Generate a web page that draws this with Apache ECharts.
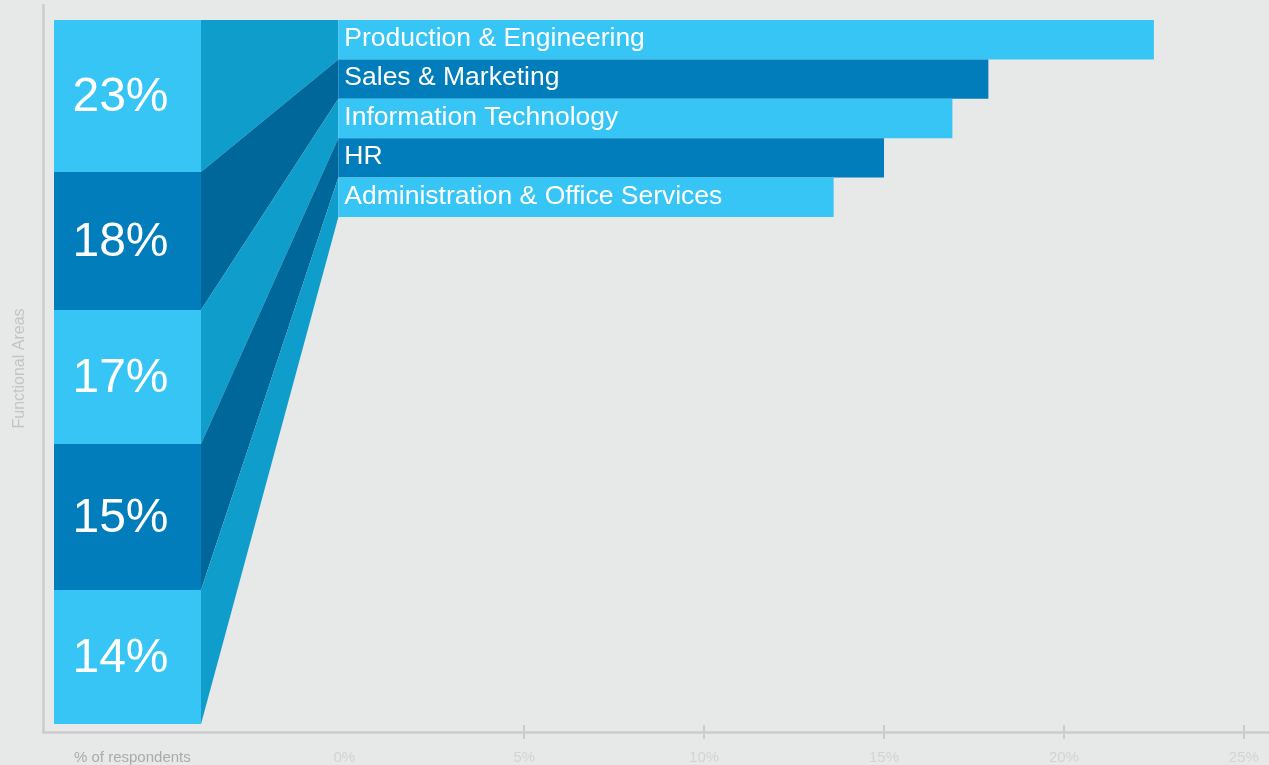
<!DOCTYPE html>
<html>
<head>
<meta charset="utf-8">
<script src="https://cdn.jsdelivr.net/npm/echarts@6/dist/echarts.min.js"></script>
<style>
  html, body { margin: 0; padding: 0; background: #e7e9e8; }
  #chart { width: 1269px; height: 765px; }
</style>
</head>
<body>
<div id="chart"></div>
<script>
// Functional areas of respondents (% of respondents)
const categories = [
  'Production & Engineering',
  'Sales & Marketing',
  'Information Technology',
  'HR',
  'Administration & Office Services'
];
const respondentShare = [22.5, 17.9, 16.9, 15.0, 13.6];
const tickValues = [0, 5, 10, 15, 20, 25];

// Layout of the stacked summary column on the left (relative block heights)
const blockSpan = [152, 138, 134, 146, 134];
const BAR_LEAD = 6;          // bars start a few pixels before the 0% line
const FONT = '"Liberation Sans", Arial, Helvetica, sans-serif';
const LIGHT = '#36c5f4';
const DARK = '#007dba';
const FOLD_LIGHT = '#0f9dcc';
const FOLD_DARK = '#00679a';
const AXIS_GREY = '#cbcdcc';

const blockBounds = [];
let acc = 0;
blockSpan.forEach(function (h) { blockBounds.push([acc, acc + h]); acc += h; });
const blockTotal = acc;

const X_MIN = -8.375, X_MAX = 25.7;

const chart = echarts.init(document.getElementById('chart'), null, { renderer: 'canvas' });

function renderBar(params, api) {
  const i = api.value(1);
  const v = api.value(0);
  const c0 = api.coord([0, i]);
  const c1 = api.coord([v, i]);
  const band = api.size([0, 1])[1];
  return {
    type: 'group',
    children: [
      {
        type: 'rect',
        shape: { x: c0[0] - BAR_LEAD, y: c0[1] - band / 2, width: c1[0] - c0[0] + BAR_LEAD, height: band },
        style: { fill: i % 2 ? DARK : LIGHT }
      },
      {
        type: 'text',
        style: {
          text: categories[i], x: c0[0], y: c0[1] - 1,
          fill: '#ffffff', fontSize: 26.5, fontFamily: FONT,
          align: 'left', verticalAlign: 'middle'
        }
      }
    ]
  };
}

function renderFold(params, api) {
  const i = api.value(1);
  const c = api.coord([0, i]);
  const band = api.size([0, 1])[1];
  const xr = c[0] - BAR_LEAD;
  const xl = chart.convertToPixel({ xAxisIndex: 3 }, 1);
  const yt = chart.convertToPixel({ yAxisIndex: 2 }, api.value(2));
  const yb = chart.convertToPixel({ yAxisIndex: 2 }, api.value(3));
  return {
    type: 'polygon',
    shape: { points: [[xl, yt], [xr, c[1] - band / 2], [xr, c[1] + band / 2], [xl, yb]] },
    style: { fill: i % 2 ? FOLD_DARK : FOLD_LIGHT }
  };
}

function renderBlock(params, api) {
  const i = params.dataIndex;
  const p0 = api.coord([0, api.value(1)]);
  const p1 = api.coord([1, api.value(2)]);
  const cx = (p0[0] + p1[0]) / 2;
  const cy = (p0[1] + p1[1]) / 2;
  return {
    type: 'group',
    children: [
      {
        type: 'rect',
        shape: { x: p0[0], y: p0[1], width: p1[0] - p0[0], height: p1[1] - p0[1] },
        style: { fill: i % 2 ? DARK : LIGHT }
      },
      {
        type: 'text',
        style: {
          text: Math.round(respondentShare[i]) + '%', x: cx - 7, y: cy + 2,
          fill: '#ffffff', fontSize: 48, fontFamily: FONT,
          align: 'center', verticalAlign: 'middle'
        }
      }
    ]
  };
}

const option = {
  backgroundColor: '#e7e9e8',
  animation: false,
  textStyle: { fontFamily: FONT },
  grid: [
    { left: 43, right: 0, top: 20, height: 197 },          // bars
    { left: 43, right: 0, top: 5, bottom: 32 },            // frame with axes
    { left: 54, width: 147, top: 20, height: 704 }         // summary column
  ],
  xAxis: [
    { gridIndex: 0, type: 'value', min: X_MIN, max: X_MAX, show: false },
    {
      gridIndex: 1, type: 'value', position: 'bottom', min: X_MIN, max: X_MAX,
      axisLine: { show: true, onZero: false, lineStyle: { color: AXIS_GREY, width: 2.5 } },
      axisTick: { show: true, customValues: tickValues.slice(1), length: 7, lineStyle: { color: AXIS_GREY, width: 2 } },
      axisLabel: {
        customValues: tickValues, formatter: function (v) { return v + '%'; },
        color: '#d2d4d3', fontSize: 15, margin: 18, fontFamily: FONT
      },
      splitLine: { show: false }
    },
    {
      gridIndex: 1, type: 'value', position: 'bottom', min: X_MIN, max: X_MAX,
      axisLine: { show: false, onZero: false },
      axisTick: { show: true, inside: true, customValues: tickValues.slice(1), length: 7, lineStyle: { color: AXIS_GREY, width: 2 } },
      axisLabel: { show: false },
      splitLine: { show: false }
    },
    { gridIndex: 2, type: 'value', min: 0, max: 1, show: false }
  ],
  yAxis: [
    { gridIndex: 0, type: 'category', data: categories, inverse: true, show: false },
    {
      gridIndex: 1, type: 'value', position: 'left', min: 0, max: 1,
      axisLine: { show: true, onZero: false, lineStyle: { color: AXIS_GREY, width: 2.5 } },
      axisTick: { show: false }, axisLabel: { show: false }, splitLine: { show: false },
      name: 'Functional Areas', nameLocation: 'middle', nameGap: 15, nameRotate: 90,
      nameTextStyle: { color: '#c3c5c4', fontSize: 16, fontFamily: FONT }
    },
    { gridIndex: 2, type: 'value', inverse: true, min: 0, max: blockTotal, show: false }
  ],
  graphic: [
    {
      type: 'text', left: 74, top: 750,
      style: { text: '% of respondents', fill: '#a9abaa', fontSize: 15, fontFamily: FONT }
    }
  ],
  series: [
    {
      type: 'custom', name: 'fold', xAxisIndex: 0, yAxisIndex: 0, clip: false,
      encode: { x: 0, y: 1 },
      data: categories.map(function (c, i) { return [0, i, blockBounds[i][0], blockBounds[i][1]]; }),
      renderItem: renderFold, z: 1
    },
    {
      type: 'custom', name: 'column', xAxisIndex: 3, yAxisIndex: 2, clip: false,
      encode: { x: 0, y: 1 },
      data: categories.map(function (c, i) { return [0.5, blockBounds[i][0], blockBounds[i][1]]; }),
      renderItem: renderBlock, z: 2
    },
    {
      type: 'custom', name: 'share', xAxisIndex: 0, yAxisIndex: 0, clip: false,
      encode: { x: 0, y: 1 },
      data: respondentShare.map(function (v, i) { return [v, i]; }),
      renderItem: renderBar, z: 3
    }
  ]
};

chart.setOption(option);
</script>
</body>
</html>
